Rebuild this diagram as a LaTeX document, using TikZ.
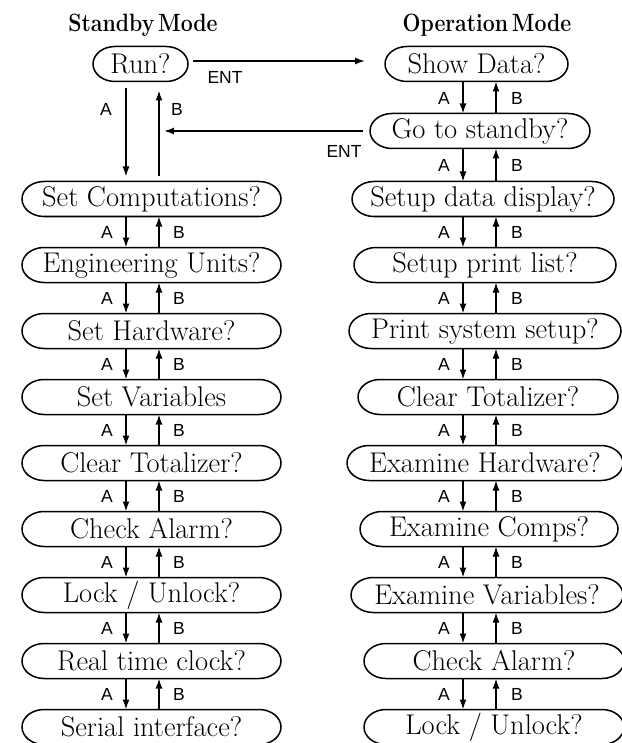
\documentclass[tikz,border=0pt]{standalone}
\usepackage{fontspec}
\newfontfamily\labfont{Liberation Sans}
\usetikzlibrary{arrows.meta}
\tikzset{
  box/.style={rectangle, minimum height=35pt, inner sep=0pt, outer sep=0pt,
    font=\fontsize{28.5}{32}\selectfont\addfontfeature{FakeBold=0.5}},
  outl/.style={line width=1.5pt},
  lab/.style={font=\labfont\fontsize{17.5}{19}\selectfont, inner sep=0pt},
  arr/.style={-{Latex[length=10pt,width=7pt]}, line width=1.5pt},
  hdr/.style={font=\bfseries\fontsize{25}{28}\selectfont, inner sep=0pt, anchor=base}
}
\newcommand\stadiumoutline[1]{%
  \draw[outl] ([xshift=22pt]#1.north west) -- ([xshift=-22pt]#1.north east)
    arc[start angle=90, end angle=-90, x radius=22pt, y radius=17.5pt]
    -- ([xshift=22pt]#1.south west)
    arc[start angle=270, end angle=90, x radius=22pt, y radius=17.5pt] -- cycle;}
\begin{document}
\begin{tikzpicture}[x=1pt,y=-1pt]
\useasboundingbox (0,0) rectangle (621,743);
% guide coordinates for the vertical connectors
\coordinate (LA) at (126,0);
\coordinate (LB) at (159,0);
\coordinate (RA) at (463,0);
\coordinate (RB) at (496,0);
% headers
\node[hdr] (hs) at (143,32) {\scalebox{0.85}[1]{Standby\hspace{0.18em}Mode}};
\node[hdr] (ho) at (487,32) {\scalebox{0.85}[1]{Operation\hspace{0.18em}Mode}};
% standby column
\node[box, minimum width=95pt]  (run) at (140.5,64) {Run?};
\node[box, minimum width=259pt] (l1) at (151.5,199) {Set Computations?};
\node[box, minimum width=259pt] (l2) at (151.5,265) {Engineering Units?};
\node[box, minimum width=259pt] (l3) at (151.5,331) {Set Hardware?};
\node[box, minimum width=259pt] (l4) at (151.5,397) {Set Variables};
\node[box, minimum width=259pt] (l5) at (151.5,463) {Clear Totalizer?};
\node[box, minimum width=259pt] (l6) at (151.5,529) {Check Alarm?};
\node[box, minimum width=259pt] (l7) at (151.5,595) {Lock / Unlock?};
\node[box, minimum width=259pt] (l8) at (151.5,661) {Real time clock?};
\node[box, minimum width=259pt] (l9) at (151.5,727) {Serial interface?};
% operation column
\node[box, minimum width=183pt] (r1) at (476.5,64) {Show Data?};
\node[box, minimum width=220pt] (r2) at (480,131) {Go to standby?};
\node[box, minimum width=262pt] (r3) at (483,199) {Setup data display?};
\node[box, minimum width=262pt] (r4) at (485,265) {Setup print list?};
\node[box, minimum width=272pt] (r5) at (485,331) {Print system setup?};
\node[box, minimum width=260pt] (r6) at (488,397) {Clear Totalizer?};
\node[box, minimum width=276pt] (r7) at (485,463) {Examine Hardware?};
\node[box, minimum width=258pt] (r8) at (489,529) {Examine Comps?};
\node[box, minimum width=272pt] (r9) at (487,595) {Examine Variables?};
\node[box, minimum width=260pt] (r10) at (494,661) {Check Alarm?};
\node[box, minimum width=260pt] (r11) at (494,727) {Lock / Unlock?};
\foreach \n in {run,l1,l2,l3,l4,l5,l6,l7,l8,l9,r1,r2,r3,r4,r5,r6,r7,r8,r9,r10,r11}{
  \stadiumoutline{\n}
}
% ENT connectors
\draw[arr, shorten <=5pt, shorten >=20pt] ([yshift=3pt]run.east) -- ([yshift=3pt]r1.west);
\node[lab] (ent1) at (225,77) {ENT};
\draw[arr, shorten <=7pt, shorten >=5pt] (r2.west) -- (r2.west -| LB);
\node[lab] (ent2) at (344,151) {ENT};
% Run? <-> Set Computations?
\draw[arr, shorten <=7pt, shorten >=5pt] (run.south -| LA) -- (l1.north -| LA);
\draw[arr, shorten <=5pt, shorten >=9pt] (l1.north -| LB) -- (run.south -| LB);
\node[lab] (la0) at (106,109) {A};
\node[lab] (lb0) at (177,109) {B};
% standby column small connectors
\foreach \a/\b/\y in {l1/l2/232,l2/l3/298,l3/l4/364,l4/l5/430,l5/l6/496,l6/l7/562,l7/l8/628,l8/l9/694}{
  \draw[arr] (\a.south -| LA) -- (\b.north -| LA);
  \draw[arr] (\b.north -| LB) -- (\a.south -| LB);
  \node[lab] (la-\a) at (107,\y) {A};
  \node[lab] (lb-\a) at (179,\y) {B};
}
% operation column small connectors
\foreach \a/\b/\y in {r1/r2/98,r2/r3/165,r3/r4/232,r4/r5/298,r5/r6/364,r6/r7/430,r7/r8/496,r8/r9/562,r9/r10/628,r10/r11/694}{
  \draw[arr] (\a.south -| RA) -- (\b.north -| RA);
  \draw[arr] (\b.north -| RB) -- (\a.south -| RB);
  \node[lab] (ra-\a) at (444,\y) {A};
  \node[lab] (rb-\a) at (517,\y) {B};
}
\end{tikzpicture}
\end{document}
